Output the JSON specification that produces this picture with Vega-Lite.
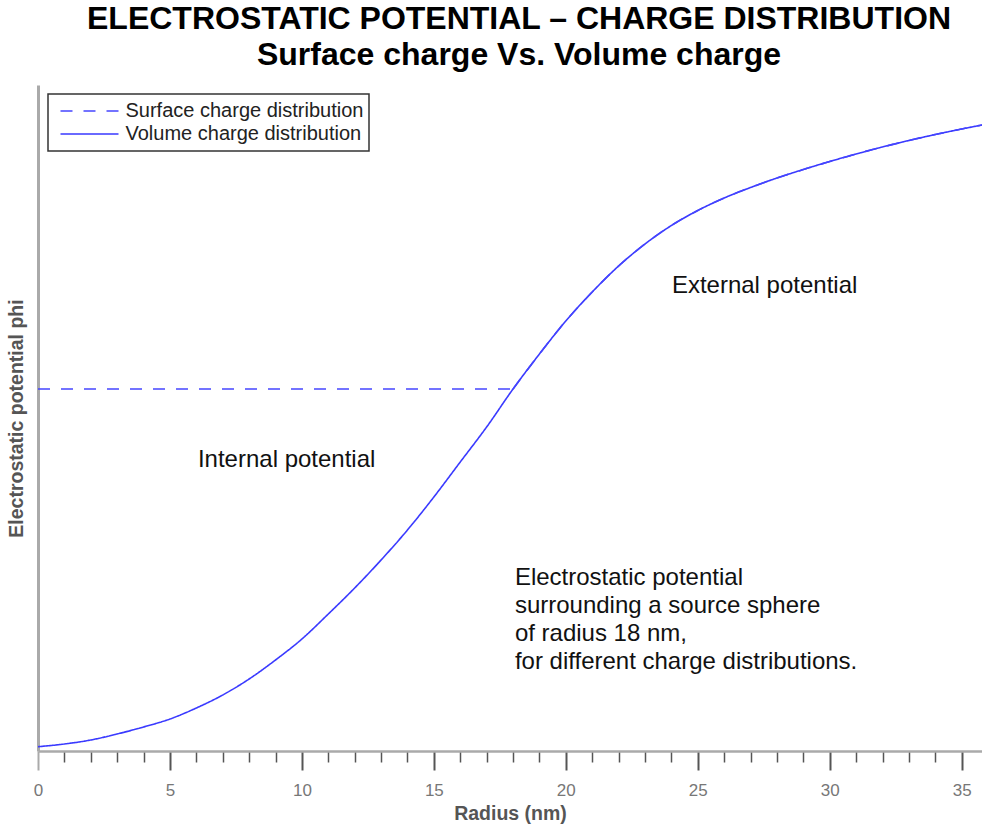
{
  "$schema": "https://vega.github.io/schema/vega-lite/v6.json",
  "width": 944,
  "height": 666,
  "autosize": {"type": "none"},
  "padding": {"left": 38, "top": 85, "right": 0, "bottom": 79},
  "background": "white",
  "config": {
    "view": {"stroke": null},
    "font": "Liberation Sans",
    "legend": {"strokeWidth": 1.5}
  },
  "title": {
    "text": ["ELECTROSTATIC POTENTIAL – CHARGE DISTRIBUTION", "Surface charge Vs. Volume charge"],
    "font": "Liberation Sans",
    "fontSize": 32,
    "fontWeight": "bold",
    "color": "#000000",
    "lineHeight": 36,
    "anchor": "middle",
    "frame": "group",
    "baseline": "alphabetic",
    "offset": 21,
    "dx": 9,
    "dy": 33
  },
  "resolve": {"axis": {"x": "independent"}},
  "datasets": {
    "curves": [
      {"series": "Volume charge distribution", "part": "whole", "r": 0, "phi": 4.3},
      {"series": "Volume charge distribution", "part": "whole", "r": 1, "phi": 7},
      {"series": "Volume charge distribution", "part": "whole", "r": 2, "phi": 11},
      {"series": "Volume charge distribution", "part": "whole", "r": 3, "phi": 17},
      {"series": "Volume charge distribution", "part": "whole", "r": 4, "phi": 24},
      {"series": "Volume charge distribution", "part": "whole", "r": 5, "phi": 32},
      {"series": "Volume charge distribution", "part": "whole", "r": 6, "phi": 43},
      {"series": "Volume charge distribution", "part": "whole", "r": 7, "phi": 56},
      {"series": "Volume charge distribution", "part": "whole", "r": 8, "phi": 72},
      {"series": "Volume charge distribution", "part": "whole", "r": 9, "phi": 91},
      {"series": "Volume charge distribution", "part": "whole", "r": 10, "phi": 112},
      {"series": "Volume charge distribution", "part": "whole", "r": 11, "phi": 137},
      {"series": "Volume charge distribution", "part": "whole", "r": 12, "phi": 163},
      {"series": "Volume charge distribution", "part": "whole", "r": 13, "phi": 191},
      {"series": "Volume charge distribution", "part": "whole", "r": 14, "phi": 221},
      {"series": "Volume charge distribution", "part": "whole", "r": 15, "phi": 254},
      {"series": "Volume charge distribution", "part": "whole", "r": 16, "phi": 289},
      {"series": "Volume charge distribution", "part": "whole", "r": 17, "phi": 324},
      {"series": "Volume charge distribution", "part": "whole", "r": 18, "phi": 362},
      {"series": "Volume charge distribution", "part": "whole", "r": 19, "phi": 397},
      {"series": "Volume charge distribution", "part": "whole", "r": 20, "phi": 430},
      {"series": "Volume charge distribution", "part": "whole", "r": 21, "phi": 459},
      {"series": "Volume charge distribution", "part": "whole", "r": 22, "phi": 485},
      {"series": "Volume charge distribution", "part": "whole", "r": 23, "phi": 507},
      {"series": "Volume charge distribution", "part": "whole", "r": 24, "phi": 525.5},
      {"series": "Volume charge distribution", "part": "whole", "r": 25, "phi": 540.5},
      {"series": "Volume charge distribution", "part": "whole", "r": 26, "phi": 553},
      {"series": "Volume charge distribution", "part": "whole", "r": 27, "phi": 563.5},
      {"series": "Volume charge distribution", "part": "whole", "r": 28, "phi": 573},
      {"series": "Volume charge distribution", "part": "whole", "r": 29, "phi": 581.5},
      {"series": "Volume charge distribution", "part": "whole", "r": 30, "phi": 589.5},
      {"series": "Volume charge distribution", "part": "whole", "r": 31, "phi": 597},
      {"series": "Volume charge distribution", "part": "whole", "r": 32, "phi": 604},
      {"series": "Volume charge distribution", "part": "whole", "r": 33, "phi": 610.5},
      {"series": "Volume charge distribution", "part": "whole", "r": 34, "phi": 616.5},
      {"series": "Volume charge distribution", "part": "whole", "r": 35, "phi": 622},
      {"series": "Volume charge distribution", "part": "whole", "r": 35.77, "phi": 626},
      {"series": "Surface charge distribution", "part": "inside", "r": 0, "phi": 362},
      {"series": "Surface charge distribution", "part": "inside", "r": 18, "phi": 362},
      {"series": "Surface charge distribution", "part": "outside", "r": 18, "phi": 362},
      {"series": "Surface charge distribution", "part": "outside", "r": 19, "phi": 397},
      {"series": "Surface charge distribution", "part": "outside", "r": 20, "phi": 430},
      {"series": "Surface charge distribution", "part": "outside", "r": 21, "phi": 459},
      {"series": "Surface charge distribution", "part": "outside", "r": 22, "phi": 485},
      {"series": "Surface charge distribution", "part": "outside", "r": 23, "phi": 507},
      {"series": "Surface charge distribution", "part": "outside", "r": 24, "phi": 525.5},
      {"series": "Surface charge distribution", "part": "outside", "r": 25, "phi": 540.5},
      {"series": "Surface charge distribution", "part": "outside", "r": 26, "phi": 553},
      {"series": "Surface charge distribution", "part": "outside", "r": 27, "phi": 563.5},
      {"series": "Surface charge distribution", "part": "outside", "r": 28, "phi": 573},
      {"series": "Surface charge distribution", "part": "outside", "r": 29, "phi": 581.5},
      {"series": "Surface charge distribution", "part": "outside", "r": 30, "phi": 589.5},
      {"series": "Surface charge distribution", "part": "outside", "r": 31, "phi": 597},
      {"series": "Surface charge distribution", "part": "outside", "r": 32, "phi": 604},
      {"series": "Surface charge distribution", "part": "outside", "r": 33, "phi": 610.5},
      {"series": "Surface charge distribution", "part": "outside", "r": 34, "phi": 616.5},
      {"series": "Surface charge distribution", "part": "outside", "r": 35, "phi": 622},
      {"series": "Surface charge distribution", "part": "outside", "r": 35.77, "phi": 626}
    ]
  },
  "layer": [
    {
      "data": {"values": [{}]},
      "mark": {"type": "text", "text": "External potential", "align": "left", "baseline": "middle", "font": "Liberation Sans", "fontSize": 24, "color": "#111111"},
      "encoding": {
        "x": {
          "datum": 24.02,
          "type": "quantitative",
          "scale": {"domain": [0, 35.77], "nice": false, "zero": false},
          "axis": {
            "orient": "bottom",
            "title": null,
            "values": [1,2,3,4,6,7,8,9,11,12,13,14,16,17,18,19,21,22,23,24,26,27,28,29,31,32,33,34],
            "labels": false,
            "domain": false,
            "grid": false,
            "tickSize": 11,
            "tickWidth": 1.5,
            "tickColor": "#555555"
          }
        },
        "y": {"datum": 465, "type": "quantitative"}
      }
    },
    {
      "data": {"name": "curves"},
      "mark": {"type": "line", "strokeWidth": 1.6, "interpolate": "monotone", "clip": true},
      "encoding": {
        "x": {
          "field": "r",
          "type": "quantitative",
          "scale": {"domain": [0, 35.77], "nice": false, "zero": false},
          "axis": {
            "orient": "bottom",
            "title": "Radius (nm)",
            "titleFont": "Liberation Sans",
            "titleFontSize": 19.5,
            "titleFontWeight": "bold",
            "titleColor": "#555555",
            "titleBaseline": "alphabetic",
            "titleY": 68,
            "values": [0, 5, 10, 15, 20, 25, 30, 35],
            "labelOverlap": false,
            "labelFlush": false,
            "labelFont": "Liberation Sans",
            "labelFontSize": 17,
            "labelColor": "#777777",
            "labelBaseline": "alphabetic",
            "labelPadding": 25,
            "tickSize": 19,
            "tickWidth": 2,
            "tickColor": {"condition": {"test": "datum.value === 0", "value": "#aaaaaa"}, "value": "#555555"},
            "domainColor": "#aaaaaa",
            "domainWidth": 2.5,
            "grid": false
          }
        },
        "y": {
          "field": "phi",
          "type": "quantitative",
          "scale": {"domain": [0, 666], "nice": false, "zero": false},
          "axis": {
            "title": "Electrostatic potential phi",
            "titleFont": "Liberation Sans",
            "titleFontSize": 19.5,
            "titleFontWeight": "bold",
            "titleColor": "#555555",
            "titleBaseline": "alphabetic",
            "titleX": -16,
            "ticks": false,
            "labels": false,
            "grid": false,
            "domainColor": "#aaaaaa",
            "domainWidth": 3
          }
        },
        "detail": {"field": "part", "type": "nominal"},
        "color": {
          "field": "series",
          "type": "nominal",
          "scale": {
            "domain": ["Surface charge distribution", "Volume charge distribution"],
            "range": ["#4545ff", "#3a3aff"]
          },
          "legend": {
            "title": null,
            "orient": "none",
            "legendX": 10,
            "legendY": 9,
            "symbolType": "stroke",
            "symbolSize": 3364,
            "symbolStrokeWidth": 1.5,
            "labelFont": "Liberation Sans",
            "labelFontSize": 20,
            "labelColor": "#222222",
            "labelOffset": 6,
            "labelLimit": 500,
            "clipHeight": 23,
            "fillColor": "white",
            "strokeColor": "#333333",
            "padding": 5.5,
            "rowPadding": 0,
            "symbolOffset": 6
          }
        },
        "strokeDash": {
          "field": "series",
          "type": "nominal",
          "scale": {
            "domain": ["Surface charge distribution", "Volume charge distribution"],
            "range": [[12, 11], [1, 0]]
          },
          "legend": {
            "title": null,
            "orient": "none",
            "legendX": 10,
            "legendY": 9,
            "symbolType": "stroke",
            "symbolSize": 3364,
            "symbolStrokeWidth": 1.5,
            "labelFont": "Liberation Sans",
            "labelFontSize": 20,
            "labelColor": "#222222",
            "labelOffset": 6,
            "labelLimit": 500,
            "clipHeight": 23,
            "fillColor": "white",
            "strokeColor": "#333333",
            "padding": 5.5,
            "rowPadding": 0,
            "symbolOffset": 6
          }
        }
      }
    },
    {
      "data": {"values": [{}]},
      "mark": {"type": "text", "text": "Internal potential", "align": "left", "baseline": "middle", "font": "Liberation Sans", "fontSize": 24, "color": "#111111"},
      "encoding": {
        "x": {"datum": 6.06, "type": "quantitative", "axis": null},
        "y": {"datum": 291, "type": "quantitative"}
      }
    },
    {
      "data": {"values": [{}]},
      "mark": {
        "type": "text",
        "text": ["Electrostatic potential", "surrounding a source sphere", "of radius 18 nm,", "for different charge distributions."],
        "align": "left",
        "baseline": "middle",
        "lineHeight": 28,
        "font": "Liberation Sans",
        "fontSize": 24,
        "color": "#111111"
      },
      "encoding": {
        "x": {"datum": 18.07, "type": "quantitative", "axis": null},
        "y": {"datum": 173, "type": "quantitative"}
      }
    }
  ]
}
